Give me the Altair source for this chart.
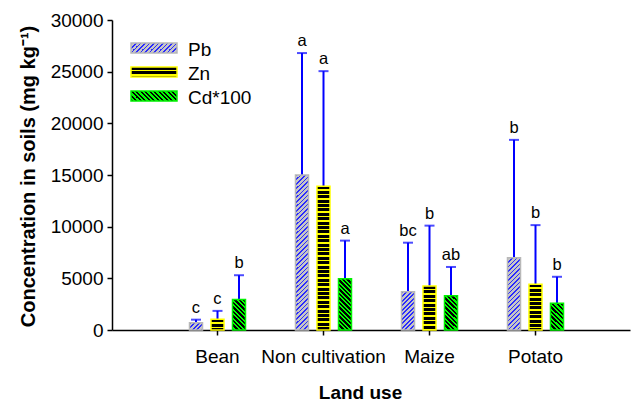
import altair as alt
import pandas as pd

# ---------------- data ----------------
land_use = ["Bean", "Non cultivation", "Maize", "Potato"]
series = ["Pb", "Zn", "Cd*100"]

pb_mean = [700, 15000, 3700, 7000]
pb_upper = [1000, 26800, 8450, 18400]
pb_letter = ["c", "a", "bc", "b"]

zn_mean = [1050, 13900, 4250, 4420]
zn_upper = [1850, 25050, 10100, 10150]
zn_letter = ["c", "a", "b", "b"]

cd_mean = [2950, 4950, 3320, 2580]
cd_upper = [5300, 8650, 6100, 5150]
cd_letter = ["b", "a", "ab", "b"]

y_ticks = [0, 5000, 10000, 15000, 20000, 25000, 30000]

rows = []
for s, means, uppers, letters in zip(series, [pb_mean, zn_mean, cd_mean],
                                     [pb_upper, zn_upper, cd_upper],
                                     [pb_letter, zn_letter, cd_letter]):
    for lu, m, u, l in zip(land_use, means, uppers, letters):
        rows.append(dict(land=lu, series=s, mean=m, upper=u, letter=l))
df = pd.DataFrame(rows)
df["idx"] = range(len(df))
legend_df = pd.DataFrame({"series": series})

# ---------------- styles ----------------
W, H = 518, 310
Y_MAX = 30000
BAR_W = 13.0
FONT = "Liberation Sans"

STYLE = {
    "Pb": dict(kind="/", bg="#c6c6c6", fg="#2a2aff", period=4.5, line=1.8, stroke="#b8b8b8"),
    "Zn": dict(kind="h", bg="#ffff00", fg="#000000", period=4.4, line=3.0, stroke="#ffff00"),
    "Cd*100": dict(kind="\\", bg="#00ff00", fg="#000000", period=4.5, line=2.2, stroke="#00f000"),
}


def hatch(w, h, st):
    """Striped fill built as a hard-stop linear gradient (bbox units)."""
    kind, bg, fg, p, line = st["kind"], st["bg"], st["fg"], st["period"], st["line"]
    h = max(h, 1.0)
    if kind == "h":
        L = h
        g = dict(x1=0, y1=0, x2=0, y2=1)
    elif kind == "/":
        L = w + h
        k = L / (w * w + h * h)
        g = dict(x1=0, y1=0, x2=w * k, y2=h * k)
    else:
        L = w + h
        k = L / (w * w + h * h)
        g = dict(x1=0, y1=1, x2=w * k, y2=1 - h * k)
    stops = []
    i = 0
    while i * p < L:
        a = i * p / L
        b = min((i * p + line) / L, 1.0)
        c = min((i + 1) * p / L, 1.0)
        stops += [dict(offset=a, color=fg), dict(offset=b, color=fg),
                  dict(offset=b, color=bg), dict(offset=c, color=bg)]
        i += 1
    grad = {"gradient": "linear", "stops": stops}
    grad.update(g)
    return grad


# ---------------- encodings ----------------
x_enc = alt.X(
    "land:N", sort=land_use,
    scale=alt.Scale(domain=land_use, paddingInner=0.2689, paddingOuter=0.5778, align=0.5449),
    axis=alt.Axis(
        title="Land use", labelAngle=0, labelFont=FONT, labelFontSize=19, labelColor="black",
        labelPadding=12, tickSize=5, tickColor="black", tickWidth=1.5,
        domainColor="black", domainWidth=1.5,
        titleFont=FONT, titleFontSize=19, titleFontWeight="bold", titleColor="black",
        titleX=248, titleY=68, titleBaseline="alphabetic", titleAlign="center",
    ),
)
xo_enc = alt.XOffset(
    "series:N", sort=series,
    scale=alt.Scale(domain=series, paddingInner=0.395, paddingOuter=0.5),
)
y_axis = alt.Axis(
    values=y_ticks, format="d", grid=False,
    title="Concentration in soils (mg kg⁻¹)",
    labelFont=FONT, labelFontSize=19, labelColor="black", labelPadding=4,
    tickSize=5, tickColor="black", tickWidth=1.5,
    domainColor="black", domainWidth=1.5,
    titleFont=FONT, titleFontSize=20, titleFontWeight="bold", titleColor="black",
    titleX=-78, titleY=156, titleAngle=-90, titleBaseline="alphabetic", titleAlign="center",
)
y_scale = alt.Scale(domain=[0, Y_MAX], nice=False, zero=True)
y_mean = alt.Y("mean:Q", scale=y_scale, axis=y_axis)
y_upper = alt.Y("upper:Q", scale=y_scale, axis=y_axis)

base = alt.Chart(df)

layers = []
# error bars (stems) first so bars sit on top
layers.append(
    base.mark_rule(color="#0000ff", strokeWidth=2).encode(
        x=x_enc, xOffset=xo_enc, y=y_mean, y2="upper:Q"
    )
)
for r in df.itertuples():
    st = STYLE[r.series]
    h = r.mean / Y_MAX * H
    layers.append(
        base.transform_filter(alt.datum.idx == r.idx)
        .mark_bar(fill=hatch(BAR_W, h, st), stroke=st["stroke"], strokeWidth=1.5)
        .encode(x=x_enc, xOffset=xo_enc, y=y_mean)
    )
# caps
layers.append(
    base.mark_tick(color="#0000ff", thickness=2, size=10, orient="horizontal").encode(
        x=x_enc, xOffset=xo_enc, y=y_upper
    )
)
# significance letters
layers.append(
    base.mark_text(font=FONT, fontSize=16.5, color="black", baseline="alphabetic", dy=-7).encode(
        x=x_enc, xOffset=xo_enc, y=y_upper, text="letter:N"
    )
)

# legend (manual, so the swatches carry the hatching)
for i, s in enumerate(series):
    st = STYLE[s]
    top = 23 + 24 * i
    layers.append(
        alt.Chart(legend_df).transform_filter(alt.datum.series == s)
        .mark_rect(fill=hatch(46, 10, st), stroke=st["stroke"], strokeWidth=1.5)
        .encode(x=alt.value(19), x2=alt.value(65), y=alt.value(top), y2=alt.value(top + 10))
    )
    layers.append(
        alt.Chart(legend_df).transform_filter(alt.datum.series == s)
        .mark_text(font=FONT, fontSize=19, color="black", align="left", baseline="alphabetic")
        .encode(x=alt.value(76), y=alt.value(top + 12.7), text="series:N")
    )

chart = (
    alt.layer(*layers)
    .properties(
        width=W, height=H,
        padding={"left": 112, "top": 20, "right": 8, "bottom": 72},
        autosize=alt.AutoSizeParams(type="none"),
        background="white",
    )
    .configure_view(stroke=None)
)

chart.save("out.html", embed_options={"renderer": "svg", "actions": False})
